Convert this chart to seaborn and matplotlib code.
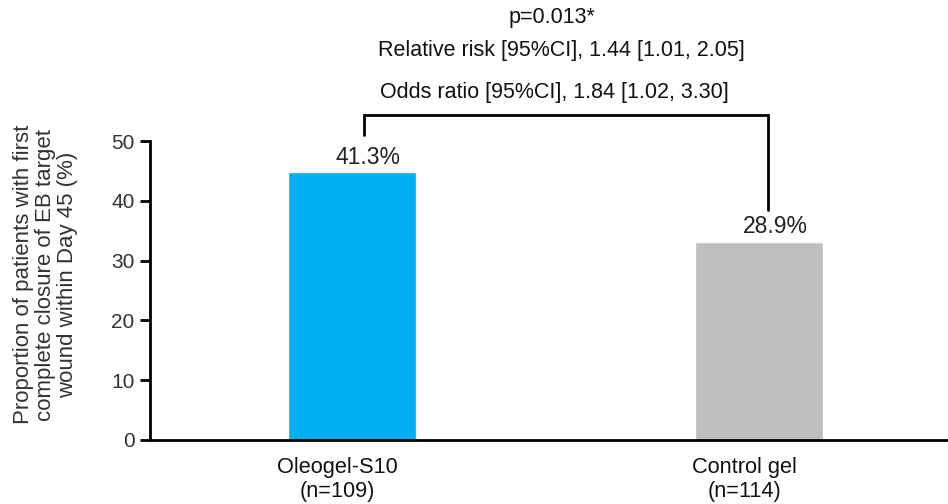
import matplotlib
matplotlib.use("Agg")
import matplotlib.pyplot as plt
import seaborn as sns
import pandas as pd

# values
groups = ["Oleogel-S10\n(n=109)", "Control gel\n(n=114)"]
bar_heights = [44.8, 33.1]
bar_labels = ["41.3%", "28.9%"]
bar_colors = ["#00B0F0", "#BFBFBF"]
y_ticks = [0, 10, 20, 30, 40, 50]
stats_lines = ["p=0.013*",
               "Relative risk [95%CI], 1.44 [1.01, 2.05]",
               "Odds ratio [95%CI], 1.84 [1.02, 3.30]"]
y_title = "Proportion of patients with first\ncomplete closure of EB target\nwound within Day 45 (%)"

sns.set_style("white")
plt.rcParams["font.family"] = ["Liberation Sans", "DejaVu Sans"]

df = pd.DataFrame({"group": groups, "value": bar_heights})

fig = plt.figure(figsize=(9.48, 5.04), dpi=100)
ax = fig.add_axes([0.1582, 0.127, 0.8418, 0.5932])

sns.barplot(data=df, x="group", y="value", hue="group", palette=bar_colors,
            width=0.315, legend=False, ax=ax, saturation=1)

ax.set_xlim(-0.496, 1.464)
ax.set_ylim(0, 50)
ax.set_yticks(y_ticks)
# category labels sit a bit left of the bar centres in the original
ax.set_xticks([-0.035, 0.965])
ax.set_xticklabels(groups)
ax.set_xlabel("")
ax.set_ylabel("")

# y title placed by hand (it sits a little above the axis middle)
fig.text(0.048, 0.455, y_title, rotation=90, ha="center", va="center",
         multialignment="center", fontsize=16, color="#333333", linespacing=1.08)

for s in ["top", "right"]:
    ax.spines[s].set_visible(False)
for s in ["left", "bottom"]:
    ax.spines[s].set_linewidth(2)
    ax.spines[s].set_color("black")

ax.tick_params(axis="y", length=7, width=2, direction="out", left=True,
               labelsize=15, colors="black", labelcolor="#333333", pad=4)
ax.tick_params(axis="x", length=0, labelsize=15.7, labelcolor="#111111", pad=12)

# value labels over bars
for i, (h, lab) in enumerate(zip(bar_heights, bar_labels)):
    ax.text(i + 0.04, h + 0.6, lab, ha="center", va="bottom", fontsize=16.5, color="#222222")

# significance bracket
ax.plot([0.03, 0.03, 1.022, 1.022], [51.0, 54.3, 54.3, 38.4],
        color="black", lw=2, clip_on=False, solid_joinstyle="miter")

fig.text(0.582, 0.965, stats_lines[0], ha="center", va="center", fontsize=15.5, color="#111111")
fig.text(0.399, 0.900, stats_lines[1], ha="left", va="center", fontsize=15.5, color="#111111")
fig.text(0.401, 0.817, stats_lines[2], ha="left", va="center", fontsize=15.5, color="#111111")

fig.savefig("out.png", dpi=100)
